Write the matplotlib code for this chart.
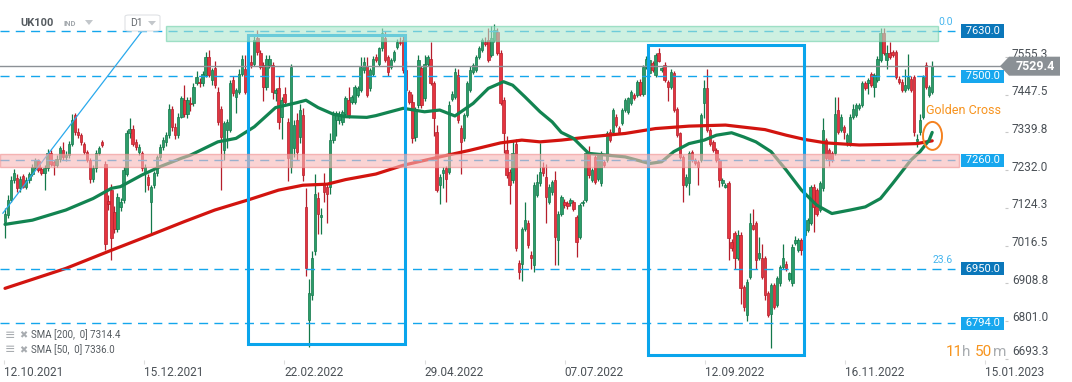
import numpy as np
import matplotlib.pyplot as plt
import matplotlib.transforms as mtransforms
from matplotlib.patches import Rectangle, Ellipse, Polygon, FancyBboxPatch

plt.rcParams['font.family'] = ['Roboto', 'DejaVu Sans']

# --- UK100 daily candles (one row of 10 bars per line) ---
opens = [
    7084, 7105, 7146, 7204, 7210, 7180, 7215, 7185, 7204, 7222,
    7242, 7257, 7236, 7225, 7237, 7280, 7255, 7247, 7265, 7290,
    7270, 7275, 7308, 7390, 7342, 7332, 7308, 7285, 7260, 7208,
    7237, 7280, 7312, 7250, 7145, 7175, 7113, 7065, 7128, 7146,
    7222, 7337, 7351, 7313, 7285, 7280, 7223, 7213, 7142, 7190,
    7223, 7270, 7299, 7313, 7332, 7408, 7356, 7332, 7385, 7432,
    7394, 7425, 7423, 7480, 7485, 7480, 7504, 7556, 7490, 7523,
    7456, 7408, 7290, 7346, 7346, 7490, 7442, 7456, 7508, 7520,
    7466, 7542, 7537, 7609, 7566, 7532, 7470, 7532, 7532, 7452,
    7466, 7385, 7451, 7370, 7242, 7295, 7375, 7327, 7390, 7127,
    6803, 6875, 7000, 7151, 7099, 7194, 7185, 7185, 7318, 7375,
    7375, 7370, 7394, 7432, 7428, 7428, 7447, 7461, 7518, 7530,
    7466, 7508, 7556, 7537, 7580, 7609, 7556, 7528, 7547, 7585,
    7600, 7604, 7518, 7456, 7428, 7327, 7418, 7523, 7437, 7537,
    7551, 7480, 7342, 7189, 7223, 7237, 7228, 7436, 7442, 7504,
    7352, 7323, 7390, 7461, 7513, 7518, 7556, 7576, 7600, 7604,
    7561, 7604, 7628, 7566, 7432, 7290, 7228, 7204, 7308, 6967,
    6965, 7065, 7082, 6990, 6960, 7161, 7194, 7242, 7213, 7142,
    7170, 7204, 7032, 7108, 7142, 7137, 7137, 7140, 7099, 7042,
    7137, 7146, 7285, 7204, 7270, 7208, 7194, 7256, 7261, 7342,
    7342, 7385, 7352, 7366, 7404, 7399, 7423, 7447, 7447, 7485,
    7451, 7528, 7510, 7539, 7504, 7566, 7518, 7532, 7485, 7470,
    7509, 7408, 7337, 7270, 7190, 7194, 7285, 7261, 7256, 7261,
    7423, 7466, 7347, 7313, 7290, 7261, 7194, 7185, 7194, 7027,
    7051, 6980, 7046, 6899, 6818, 6927, 7075, 7080, 6980, 6980,
    6980, 6880, 6822, 6903, 6846, 6908, 6956, 6965, 6922, 6908,
    7023, 7003, 7032, 7046, 7061, 7080, 7185, 7175, 7118, 7180,
    7318, 7290, 7280, 7280, 7404, 7347, 7356, 7313, 7308, 7385,
    7390, 7410, 7418, 7480, 7480, 7508, 7470, 7490, 7547, 7623,
    7547, 7566, 7570, 7570, 7494, 7485, 7461, 7466, 7494, 7499,
    7315, 7340, 7384, 7533, 7447, 7455,
]
highs = [
    7125, 7160, 7215, 7235, 7220, 7215, 7222, 7212, 7228, 7250,
    7268, 7263, 7241, 7246, 7292, 7291, 7262, 7276, 7302, 7313,
    7286, 7316, 7392, 7396, 7352, 7339, 7313, 7291, 7266, 7246,
    7291, 7302, 7318, 7258, 7162, 7192, 7130, 7166, 7152, 7242,
    7346, 7381, 7362, 7321, 7306, 7286, 7251, 7220, 7191, 7231,
    7276, 7306, 7326, 7341, 7421, 7416, 7366, 7396, 7445, 7475,
    7440, 7440, 7482, 7515, 7495, 7515, 7570, 7575, 7525, 7545,
    7470, 7415, 7372, 7378, 7490, 7500, 7466, 7520, 7560, 7560,
    7525, 7560, 7615, 7632, 7575, 7540, 7560, 7560, 7540, 7468,
    7500, 7440, 7470, 7380, 7535, 7375, 7395, 7420, 7410, 7180,
    6920, 7000, 7220, 7170, 7125, 7225, 7195, 7338, 7400, 7402,
    7400, 7405, 7445, 7470, 7448, 7476, 7472, 7555, 7555, 7555,
    7525, 7558, 7565, 7585, 7640, 7630, 7562, 7552, 7575, 7606,
    7612, 7615, 7545, 7462, 7450, 7412, 7560, 7530, 7560, 7562,
    7600, 7486, 7360, 7220, 7240, 7245, 7430, 7458, 7525, 7520,
    7360, 7396, 7488, 7530, 7538, 7562, 7586, 7610, 7612, 7640,
    7645, 7650, 7640, 7575, 7440, 7330, 7236, 7315, 7320, 6975,
    7070, 7140, 7090, 7000, 7198, 7220, 7310, 7255, 7250, 7192,
    7205, 7230, 7115, 7162, 7150, 7145, 7152, 7148, 7105, 7138,
    7148, 7288, 7300, 7238, 7276, 7282, 7288, 7262, 7344, 7350,
    7410, 7392, 7358, 7410, 7438, 7442, 7462, 7452, 7490, 7492,
    7534, 7558, 7555, 7545, 7566, 7580, 7528, 7540, 7490, 7520,
    7515, 7414, 7342, 7276, 7220, 7286, 7290, 7266, 7262, 7396,
    7490, 7520, 7354, 7318, 7296, 7266, 7210, 7196, 7200, 7034,
    7058, 7060, 7055, 6905, 6920, 7110, 7120, 7086, 7040, 7020,
    6986, 6886, 6910, 6910, 6930, 6962, 7020, 6972, 6942, 7020,
    7045, 7038, 7038, 7068, 7095, 7190, 7192, 7180, 7200, 7380,
    7325, 7296, 7286, 7440, 7440, 7392, 7362, 7338, 7392, 7420,
    7424, 7424, 7486, 7486, 7496, 7514, 7510, 7558, 7640, 7640,
    7590, 7600, 7576, 7576, 7500, 7492, 7520, 7565, 7500, 7505,
    7335, 7392, 7505, 7541, 7475, 7545,
]
lows = [
    7037, 7095, 7140, 7195, 7170, 7170, 7180, 7178, 7195, 7215,
    7236, 7228, 7218, 7175, 7230, 7245, 7218, 7240, 7255, 7262,
    7258, 7266, 7300, 7333, 7324, 7304, 7279, 7254, 7194, 7199,
    7228, 7274, 7298, 7003, 7118, 6975, 7052, 7054, 7114, 7139,
    7214, 7324, 7300, 7290, 7276, 7230, 7170, 7175, 7052, 7181,
    7215, 7260, 7290, 7300, 7325, 7345, 7322, 7325, 7380, 7385,
    7380, 7400, 7415, 7475, 7470, 7472, 7498, 7498, 7475, 7468,
    7362, 7175, 7260, 7295, 7340, 7445, 7395, 7450, 7500, 7450,
    7458, 7525, 7530, 7560, 7520, 7430, 7462, 7525, 7435, 7430,
    7350, 7320, 7420, 7200, 7223, 7270, 7260, 7310, 7200, 6930,
    6727, 6860, 6990, 7050, 7050, 7140, 7080, 7165, 7310, 7330,
    7365, 7362, 7388, 7382, 7420, 7420, 7440, 7455, 7510, 7440,
    7458, 7500, 7540, 7530, 7572, 7540, 7500, 7520, 7540, 7578,
    7590, 7510, 7455, 7420, 7310, 7315, 7410, 7410, 7430, 7530,
    7475, 7330, 7170, 7135, 7180, 7140, 7220, 7430, 7436, 7368,
    7220, 7316, 7384, 7455, 7506, 7512, 7550, 7570, 7588, 7540,
    7555, 7598, 7560, 7418, 7280, 7210, 7135, 7196, 7000, 6920,
    6915, 7058, 7010, 6950, 6940, 7155, 7188, 7215, 7080, 7135,
    7160, 6960, 6960, 7100, 7125, 7122, 7130, 7115, 6985, 7035,
    7130, 7140, 7210, 7198, 7192, 7200, 7186, 7240, 7255, 7312,
    7336, 7355, 7336, 7360, 7398, 7392, 7418, 7432, 7442, 7445,
    7445, 7522, 7505, 7512, 7498, 7540, 7512, 7485, 7430, 7465,
    7398, 7326, 7264, 7140, 7184, 7160, 7255, 7246, 7190, 7255,
    7380, 7340, 7302, 7284, 7255, 7185, 7188, 7180, 6975, 7002,
    6950, 6975, 6850, 6830, 6800, 6920, 7060, 6950, 6975, 6922,
    6860, 6812, 6723, 6836, 6840, 6902, 6950, 6945, 6915, 6902,
    7018, 6998, 6990, 7040, 7055, 7075, 7055, 7100, 7112, 7172,
    7260, 7245, 7255, 7274, 7336, 7340, 7320, 7300, 7302, 7378,
    7384, 7404, 7412, 7460, 7450, 7470, 7440, 7484, 7540, 7560,
    7520, 7550, 7555, 7492, 7479, 7455, 7455, 7460, 7455, 7330,
    7298, 7332, 7378, 7465, 7440, 7450,
]
closes = [
    7108, 7146, 7204, 7223, 7180, 7208, 7185, 7204, 7222, 7242,
    7261, 7232, 7225, 7237, 7280, 7250, 7247, 7265, 7294, 7270,
    7275, 7308, 7375, 7342, 7332, 7313, 7285, 7261, 7208, 7237,
    7280, 7295, 7305, 7022, 7135, 7037, 7065, 7156, 7142, 7232,
    7337, 7351, 7308, 7299, 7299, 7237, 7242, 7190, 7185, 7223,
    7270, 7299, 7318, 7332, 7408, 7356, 7332, 7385, 7437, 7394,
    7434, 7420, 7470, 7499, 7480, 7508, 7556, 7504, 7518, 7475,
    7370, 7327, 7366, 7370, 7480, 7452, 7461, 7508, 7551, 7456,
    7518, 7532, 7604, 7570, 7527, 7470, 7551, 7551, 7456, 7461,
    7370, 7432, 7428, 7266, 7528, 7360, 7285, 7404, 7218, 6951,
    6880, 6980, 7165, 7108, 7104, 7170, 7165, 7318, 7390, 7395,
    7394, 7399, 7437, 7390, 7442, 7470, 7466, 7528, 7542, 7447,
    7518, 7551, 7546, 7580, 7623, 7546, 7513, 7547, 7570, 7600,
    7596, 7518, 7461, 7428, 7323, 7408, 7547, 7418, 7537, 7556,
    7480, 7380, 7175, 7213, 7232, 7208, 7418, 7450, 7513, 7375,
    7313, 7390, 7480, 7518, 7532, 7556, 7580, 7604, 7594, 7547,
    7609, 7632, 7566, 7423, 7337, 7218, 7189, 7280, 7008, 6942,
    7065, 7089, 7018, 6980, 7190, 7199, 7228, 7223, 7156, 7185,
    7199, 7042, 7108, 7156, 7132, 7130, 7146, 7122, 7027, 7132,
    7142, 7280, 7218, 7232, 7199, 7275, 7280, 7247, 7337, 7318,
    7404, 7361, 7342, 7404, 7432, 7437, 7456, 7437, 7485, 7451,
    7528, 7551, 7548, 7518, 7561, 7545, 7523, 7490, 7470, 7513,
    7404, 7332, 7270, 7190, 7213, 7280, 7261, 7252, 7242, 7390,
    7466, 7347, 7308, 7290, 7261, 7204, 7204, 7190, 7037, 7008,
    6980, 7046, 6894, 6842, 6913, 7080, 7065, 6975, 6994, 6927,
    6875, 6818, 6903, 6842, 6923, 6956, 6980, 6951, 6937, 7013,
    7032, 7032, 7003, 7061, 7089, 7185, 7127, 7108, 7194, 7347,
    7266, 7260, 7261, 7394, 7342, 7385, 7342, 7332, 7385, 7408,
    7418, 7418, 7480, 7466, 7490, 7475, 7504, 7551, 7623, 7566,
    7566, 7556, 7561, 7499, 7485, 7461, 7475, 7499, 7461, 7341,
    7322, 7376, 7498, 7470, 7470, 7529.4,
]

# moving averages, sampled along the bar index
sma200_bar = [0, 20, 35, 48, 59, 69, 80, 90, 98, 106, 112, 122, 131, 143, 153, 163,
              170, 176, 183, 192, 204, 214, 225, 237, 244, 250, 257, 263, 270, 281,
              292, 300, 305]
sma200 = [6894, 6951, 7003, 7047, 7085, 7118, 7147, 7175, 7189, 7192, 7205, 7221,
          7246, 7270, 7289, 7310, 7318, 7313, 7318, 7327, 7337, 7351, 7358, 7361,
          7354, 7348, 7332, 7320, 7310, 7304, 7306, 7308, 7316]
sma50_bar = [0, 9, 20, 29, 35, 38, 45, 51, 58, 61, 70, 76, 82, 89, 96, 99, 103, 108,
             112, 119, 122, 131, 138, 143, 148, 154, 159, 164, 167, 171, 176, 180,
             183, 187, 192, 198, 204, 212, 216, 220, 225, 230, 234, 239, 243, 247,
             252, 257, 262, 267, 272, 278, 283, 288, 292, 298, 301, 304, 305]
sma50 = [7077, 7089, 7118, 7151, 7180, 7185, 7218, 7242, 7266, 7275, 7313, 7323,
         7356, 7411, 7425, 7432, 7411, 7392, 7385, 7383, 7388, 7409, 7399, 7404,
         7387, 7423, 7466, 7485, 7475, 7442, 7399, 7370, 7340, 7323, 7280, 7275,
         7270, 7251, 7256, 7285, 7308, 7318, 7332, 7339, 7327, 7313, 7285, 7232,
         7175, 7132, 7108, 7118, 7127, 7151, 7194, 7261, 7285, 7318, 7340]

levels = [7630.0, 7500.0, 7260.0, 6950.0, 6794.0]
level_dark = [True, False, False, True, False]
ytick_vals = [7555.3, 7447.5, 7339.8, 7232.0, 7124.3, 7016.5, 6908.8, 6801.0, 6693.3]
date_labels = ['12.10.2021', '15.12.2021', '22.02.2022', '29.04.2022',
               '07.07.2022', '12.09.2022', '16.11.2022', '15.01.2023']
last_price = 7529.4
sma_legend = ['SMA [200,  0] 7314.4', 'SMA [50,  0] 7336.0']
resist_zone = (7602, 7644)
support_zone = (7242, 7277)

W, H = 1072, 382
PX = 3.04          # pixels per daily bar
GREEN, GREEN_E = '#2b9c69', '#13784a'
RED, RED_E = '#e5343f', '#b51e2b'
BLUE = '#14a6ec'


def fx(px):
    return px / W


def fy(py):
    return 1 - py / H


fig = plt.figure(figsize=(W / 100, H / 100), dpi=100)
ax = fig.add_axes([0, 22 / H, 1005 / W, 360 / H])
for s in ax.spines.values():
    s.set_visible(False)

x = np.arange(len(closes))
o, h, l, c = map(np.asarray, (opens, highs, lows, closes))
up = c >= o
ax.vlines(x, l, h, colors=np.where(up, GREEN_E, RED_E), lw=0.9, zorder=2)
ax.bar(x, np.maximum(np.abs(c - o), 3), bottom=np.minimum(o, c), width=0.8,
       color=np.where(up, GREEN, RED), edgecolor=np.where(up, GREEN_E, RED_E),
       linewidth=0.5, zorder=2.5)

ax.plot(sma200_bar, sma200, color='#d2140f', lw=2.3, zorder=3,
        solid_capstyle='round', solid_joinstyle='round')
ax.plot(sma50_bar, sma50, color='#128451', lw=2.3, zorder=3,
        solid_capstyle='round', solid_joinstyle='round')

# horizontal levels and current price
xl, xr = -5 / PX, 1000 / PX
ax.hlines(levels, xl, 950 / PX, colors=BLUE, lw=1.0,
          linestyles=(0, (6.5, 4.5)), zorder=4)
ax.axhline(last_price, color='#8c9196', lw=1.0, zorder=3.5)

# trend line and highlight boxes
ax.plot([-0.7, 45.1], [7109, 7630], color='#2aa9ec', lw=0.9, zorder=4)
ax.add_patch(Rectangle((79.9, 6735), 51.7, 884, fill=False, ec='#0aa5ec', lw=2.2, zorder=4.5))
ax.add_patch(Rectangle((211.5, 6703), 51.3, 887, fill=False, ec='#0aa5ec', lw=2.2, zorder=4.5))

# zones drawn over the candles
ax.add_patch(Rectangle((53, resist_zone[0]), 253.9, resist_zone[1] - resist_zone[0],
                       fc='#ace6cd', ec='#6fd0aa', lw=1, alpha=0.6, zorder=6))
ax.add_patch(Rectangle((xl, support_zone[0]), 315.4, support_zone[1] - support_zone[0],
                       fc='#f7b7b7', ec='#ef8f8f', lw=1, alpha=0.6, zorder=6))

bl = mtransforms.blended_transform_factory(ax.transAxes, ax.transData)
for lv, dark in zip(levels, level_dark):
    ax.text(0.9973, lv, f' {lv:.1f} ', transform=bl, ha='right', va='center',
            fontsize=8, color='white', zorder=10,
            bbox=dict(boxstyle='square,pad=0.15', fc='#0b77ba' if dark else '#17a7ee', ec='none'))
ax.text(953 / 1005, 7656, '0.0', transform=bl, ha='right', va='center',
        fontsize=7.5, color='#45b5ee', zorder=10)
ax.text(953 / 1005, 6976, '23.6', transform=bl, ha='right', va='center',
        fontsize=7.5, color='#45b5ee', zorder=10)

# golden cross marker
ax.add_patch(Ellipse((305.1, 7330), 6.25, 80, fill=False, ec='#f58220', lw=1.4, zorder=9))
ax.text(926 / 1005, 7404, 'Golden Cross', transform=bl, ha='left', va='center',
        fontsize=9, color='#f7931e', zorder=9, clip_on=False)

# y axis on the right
ax.yaxis.tick_right()
ax.set_yticks(ytick_vals, labels=[])
ax.tick_params(axis='y', length=2.2, width=0.8, color='#c8c8c8')
for v in ytick_vals:
    dy = 7 if v == min(ytick_vals) else 3
    tr = bl + mtransforms.ScaledTranslation(0, dy / 100, fig.dpi_scale_trans)
    ax.text(1 + 7 / 1005, v, f'{v:.1f}', transform=tr, ha='left', va='center',
            fontsize=8.5, color='#4a5056', clip_on=False, zorder=10)

# current price tag
fb = mtransforms.blended_transform_factory(fig.transFigure, ax.transData)
hh = 9.5 * 2.86
ax.add_patch(Polygon([(fx(1000), last_price), (fx(1009), last_price + hh),
                      (fx(1060), last_price + hh), (fx(1060), last_price - hh),
                      (fx(1009), last_price - hh)], closed=True, transform=fb,
                     fc='#8a9095', ec='none', clip_on=False, zorder=20))
ax.text(fx(1035), last_price, f'{last_price:.1f}', transform=fb, ha='center', va='center',
        fontsize=9, color='white', fontweight='bold', zorder=21, clip_on=False)

# x axis dates
ax.set_xticks(np.arange(len(date_labels)) * 46.1 - 0.3, labels=date_labels)
for lab in ax.get_xticklabels():
    lab.set_horizontalalignment('left')
ax.tick_params(axis='x', length=3, color='#dddddd', pad=1, labelsize=8.5,
               labelcolor='#4a5056')

ax.set_xlim(xl, xr)
ax.set_ylim(6689.1, 7718.7)

# header
fig.text(fx(20), fy(23), 'UK100', fontsize=8, fontweight='bold', color='#555b60', va='center')
fig.text(fx(64), fy(24), 'IND', fontsize=5.5, fontweight='bold', color='#a3a8ad', va='center')
fig.add_artist(Polygon([(fx(85), fy(20)), (fx(93), fy(20)), (fx(89), fy(25))],
                       closed=True, fc='#c3c7cb', ec='none', transform=fig.transFigure))
fig.add_artist(FancyBboxPatch((fx(125), fy(31)), fx(35), 16 / H,
                              boxstyle='round,pad=0,rounding_size=0.004',
                              fc='white', ec='#dfe2e5', lw=0.8, transform=fig.transFigure))
fig.text(fx(130), fy(23.5), 'D1', fontsize=7.5, color='#666b70', va='center')
fig.add_artist(Polygon([(fx(148), fy(21)), (fx(156), fy(21)), (fx(152), fy(25.5))],
                       closed=True, fc='#c3c7cb', ec='none', transform=fig.transFigure))

# SMA legend
for k, txt in enumerate(sma_legend):
    yy = fy(335 + 15 * k)
    fig.text(fx(5), yy, '≡', fontsize=9, color='#a8acb0', va='center', family=['DejaVu Sans'])
    fig.text(fx(19), yy, '✖', fontsize=7, color='#a8acb0', va='center', family=['DejaVu Sans'])
    fig.text(fx(31), yy, txt, fontsize=7, color='#555b60', va='center')

# bar countdown
for px, s, col in [(946, '11', '#f7941d'), (962, 'h', '#a9adb1'),
                   (975, '50', '#f7941d'), (993, 'm', '#a9adb1')]:
    fig.text(fx(px), fy(352), s, fontsize=11, color=col, va='center')

fig.savefig('out.png', dpi=100)
